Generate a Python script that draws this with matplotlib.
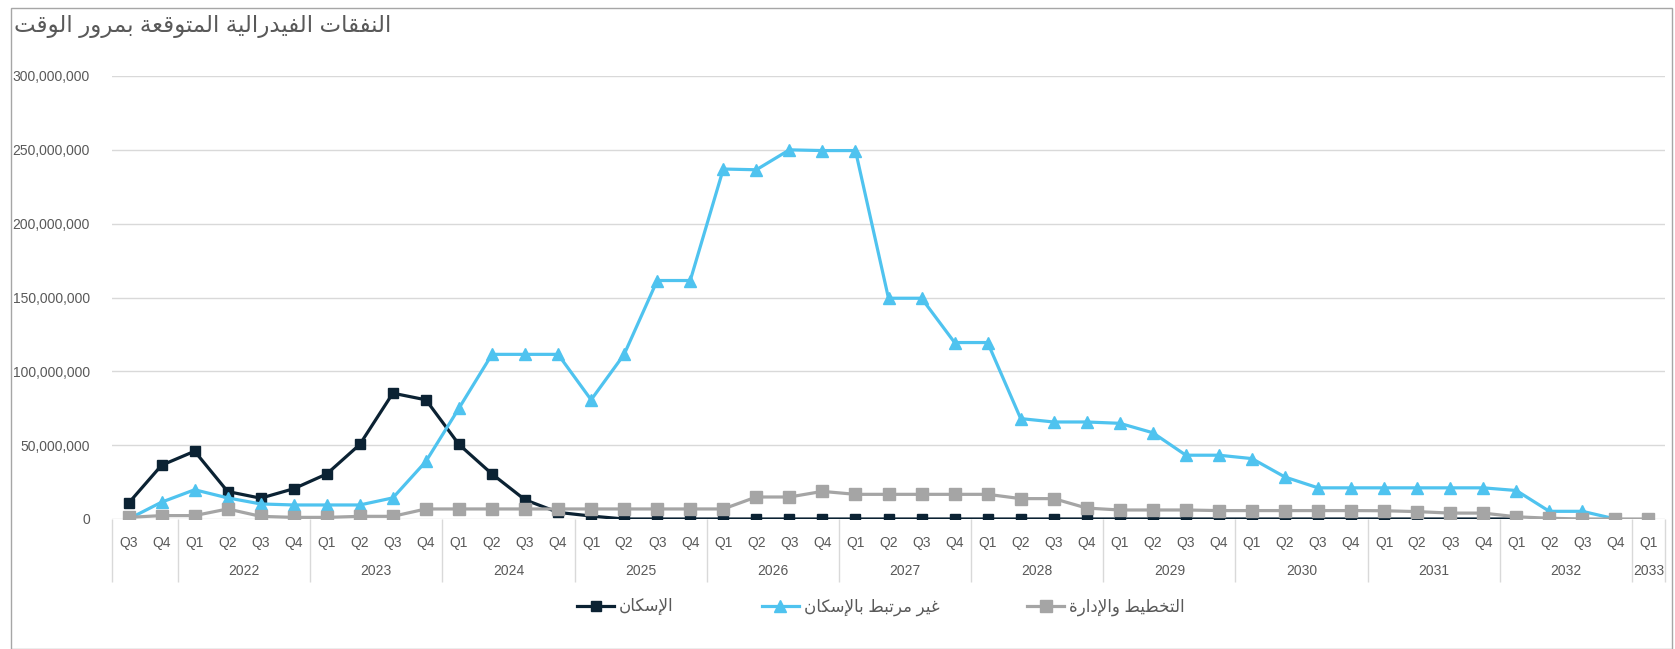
import numpy as np
import matplotlib
matplotlib.use("Agg")
import matplotlib.pyplot as plt
from matplotlib.patches import Rectangle
from matplotlib.ticker import FuncFormatter

plt.rcParams['font.family'] = ['Liberation Sans', 'DejaVu Sans']

# values in millions, 2021 Q3 .. 2033 Q1
quarters = ['Q3', 'Q4'] + ['Q1', 'Q2', 'Q3', 'Q4'] * 11 + ['Q1']
year_labels = ['', '2022', '2023', '2024', '2025', '2026', '2027', '2028',
               '2029', '2030', '2031', '2032', '2033']
year_sizes = [2] + [4] * 11 + [1]

nan = np.nan
housing = [10.7, 36.4, 45.9, 18.6, 14.1, 20.5, 30.5, 50.5, 85.2, 80.7,
           50.5, 30.5, 13.0, 4.5, 2.0, 0, 0, 0, 0, 0,
           0, 0, 0, 0, 0, 0, 0, 0, 0, 0,
           0, 0, 0, 0, 0, 0, 0, 0, 0, 0,
           0, 0, 0, nan, nan, nan, nan]
non_housing = [0, 11.4, 19.8, 14.3, 10.2, 9.5, 9.5, 9.5, 14.3, 39.0,
               75.0, 111.5, 111.5, 111.5, 80.7, 111.5, 161.5, 161.5, 237.0, 236.5,
               250.0, 249.5, 249.5, 149.5, 149.5, 119.5, 119.5, 68.0, 65.7, 65.7,
               64.8, 58.4, 43.2, 43.2, 40.9, 28.4, 21.1, 21.1, 21.1, 21.1,
               21.1, 21.1, 19.3, 5.2, 5.2, 0, nan]
planning = [1.1, 2.3, 2.3, 6.8, 1.8, 1.1, 1.1, 1.8, 1.8, 6.8,
            6.8, 6.8, 6.8, 6.8, 6.8, 6.8, 6.8, 6.8, 6.8, 14.9,
            14.9, 18.7, 16.7, 16.7, 16.7, 16.7, 16.7, 13.8, 13.8, 7.4,
            6.1, 6.1, 6.1, 5.7, 5.7, 5.7, 5.7, 5.7, 5.6, 5.0,
            4.0, 4.0, 1.5, 0.5, 0, 0, 0]

title = 'النفقات الفيدرالية المتوقعة بمرور الوقت'
names = ['الإسكان', 'غير مرتبط بالإسكان', 'التخطيط والإدارة']

# matplotlib has no arabic shaping, so pick presentation forms by hand
# (isolated, final, initial, medial)
FORMS = {
    'ا': (0xFE8D, 0xFE8E, None, None), 'إ': (0xFE87, 0xFE88, None, None),
    'ب': (0xFE8F, 0xFE90, 0xFE91, 0xFE92), 'ة': (0xFE93, 0xFE94, None, None),
    'ت': (0xFE95, 0xFE96, 0xFE97, 0xFE98), 'خ': (0xFEA5, 0xFEA6, 0xFEA7, 0xFEA8),
    'د': (0xFEA9, 0xFEAA, None, None), 'ر': (0xFEAD, 0xFEAE, None, None),
    'س': (0xFEB1, 0xFEB2, 0xFEB3, 0xFEB4), 'ط': (0xFEC1, 0xFEC2, 0xFEC3, 0xFEC4),
    'ع': (0xFEC9, 0xFECA, 0xFECB, 0xFECC), 'غ': (0xFECD, 0xFECE, 0xFECF, 0xFED0),
    'ف': (0xFED1, 0xFED2, 0xFED3, 0xFED4), 'ق': (0xFED5, 0xFED6, 0xFED7, 0xFED8),
    'ك': (0xFED9, 0xFEDA, 0xFEDB, 0xFEDC), 'ل': (0xFEDD, 0xFEDE, 0xFEDF, 0xFEE0),
    'م': (0xFEE1, 0xFEE2, 0xFEE3, 0xFEE4), 'ن': (0xFEE5, 0xFEE6, 0xFEE7, 0xFEE8),
    'ه': (0xFEE9, 0xFEEA, 0xFEEB, 0xFEEC), 'و': (0xFEED, 0xFEEE, None, None),
    'ي': (0xFEF1, 0xFEF2, 0xFEF3, 0xFEF4),
}
LAM_ALEF = {'ا': (0xFEFB, 0xFEFC), 'إ': (0xFEF9, 0xFEFA)}


def joins_next(c):
    return c in FORMS and FORMS[c][2] is not None


def shape(text):
    res = []
    i = 0
    n = len(text)
    while i < n:
        c = text[i]
        if c not in FORMS:
            res.append(c)
            i += 1
            continue
        link_prev = i > 0 and joins_next(text[i - 1])
        if c == 'ل' and i + 1 < n and text[i + 1] in LAM_ALEF:
            iso, fin = LAM_ALEF[text[i + 1]]
            res.append(chr(fin if link_prev else iso))
            i += 2
            continue
        link_next = joins_next(c) and i + 1 < n and text[i + 1] in FORMS
        f = FORMS[c]
        if link_prev and link_next:
            g = f[3]
        elif link_prev:
            g = f[1]
        elif link_next:
            g = f[2]
        else:
            g = f[0]
        res.append(chr(g))
        i += 1
    return ''.join(reversed(res))


W, H = 1675, 649
fig = plt.figure(figsize=(W / 100, H / 100), dpi=100)
ax = fig.add_axes([112 / W, 1 - 519 / H, (1665 - 112) / W, (519 - 76) / H])

x = np.arange(len(quarters))
scale = 1e6
ax.plot(x, np.array(housing) * scale, color='#0B2233', lw=2.3, marker='s',
        ms=7, label=shape(names[0]), zorder=3)
ax.plot(x, np.array(non_housing) * scale, color='#4FC3EF', lw=2.3, marker='^',
        ms=8, label=shape(names[1]), zorder=4)
ax.plot(x, np.array(planning) * scale, color='#A5A5A5', lw=2.3, marker='s',
        ms=8, label=shape(names[2]), zorder=5)

ax.set_xlim(-0.5, len(quarters) - 0.5)
ax.set_ylim(0, 300e6)
ax.set_yticks(np.arange(0, 300e6 + 1, 50e6))
ax.yaxis.set_major_formatter(FuncFormatter(lambda v, p: f'{v:,.0f}'))
ax.grid(axis='y', color='#D9D9D9', lw=1)
ax.set_axisbelow(True)
for s in ax.spines.values():
    s.set_visible(False)
ax.tick_params(axis='y', length=0, pad=16, labelsize=10, labelcolor='#595959')

ax.set_xticks(x)
ax.set_xticklabels(quarters)
ax.tick_params(axis='x', length=0, pad=12, labelsize=10, labelcolor='#595959')

# year groups under the quarters
trans = ax.get_xaxis_transform()
edges = np.concatenate([[0], np.cumsum(year_sizes)]) - 0.5
ax.vlines(edges, -0.142, 0, transform=trans, color='#D9D9D9', lw=1, clip_on=False)
for lab, a, b in zip(year_labels, edges[:-1], edges[1:]):
    ax.text((a + b) / 2, -0.117, lab, transform=trans, ha='center', va='center',
            fontsize=10, color='#595959')

fig.text(14 / W, 1 - 27 / H, shape(title), ha='left', va='center',
         fontsize=16.5, color='#595959')

fig.legend(loc='center', bbox_to_anchor=(881 / W, 1 - 607 / H), ncol=3,
           frameon=False, fontsize=12, handlelength=2.2, handletextpad=0.3,
           columnspacing=5.3, labelcolor='#595959')

fig.add_artist(Rectangle((11 / W, 0), (1672 - 11) / W, 1 - 8 / H,
                         transform=fig.transFigure, fill=False,
                         edgecolor='#A6A6A6', lw=1))

fig.savefig('out.png', dpi=100, facecolor='white')
